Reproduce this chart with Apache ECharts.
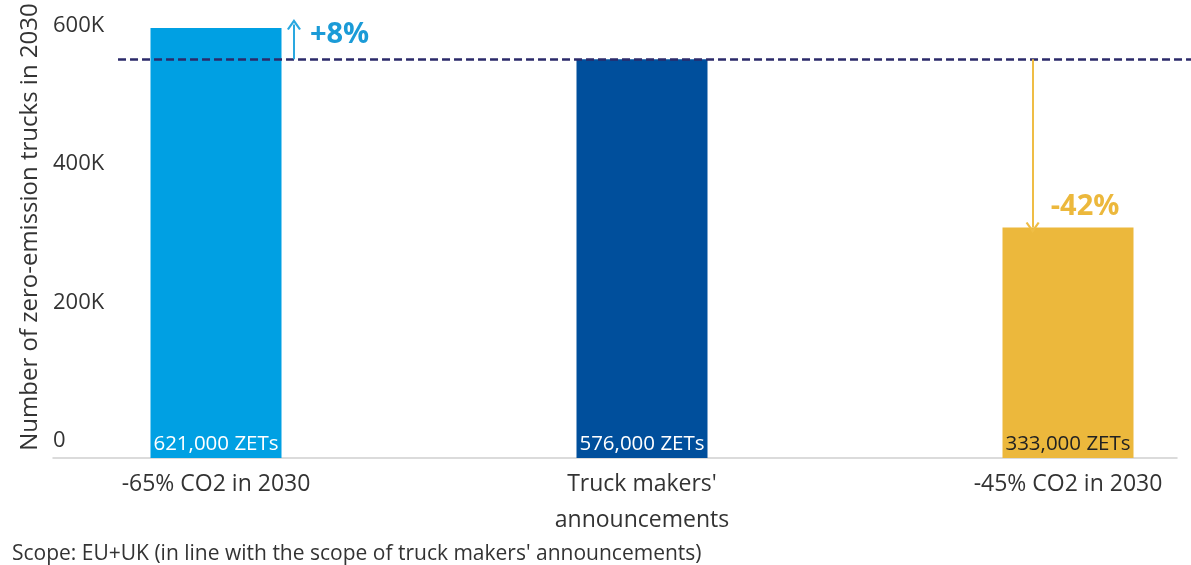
<!DOCTYPE html>
<html>
<head>
<meta charset="utf-8">
<script src="https://cdn.jsdelivr.net/npm/echarts@6/dist/echarts.min.js"></script>
<style>
  html, body { margin: 0; padding: 0; background: #fff; }
  #main { width: 1191px; height: 565px; }
</style>
</head>
<body>
<div id="main"></div>
<script>
// data
var categories = ['-65% CO2 in 2030', "Truck makers'\nannouncements", '-45% CO2 in 2030'];
var trucks = [621000, 576000, 333000];
var barTexts = ['621,000 ZETs', '576,000 ZETs', '333,000 ZETs'];
var refValue = 576000;          // truck makers' line
var changeTexts = ['+8%', '-42%'];
var yTicks = [0, 200000, 400000, 600000];

var barColors = ['#00a0e3', '#004f9c', '#ecb83c'];
var barTextColors = ['#ffffff', '#ffffff', '#222222'];
var font = 'Open Sans';
var chevron = 'path://M0,9 L6,0 L12,9 L10.4,10 L6,3.4 L1.6,10 Z';

var chart = echarts.init(document.getElementById('main'));

var barData = [];
for (var i = 0; i < trucks.length; i++) {
  barData.push({
    value: trucks[i],
    itemStyle: { color: barColors[i] },
    label: { formatter: barTexts[i], color: barTextColors[i] }
  });
}

chart.setOption({
  animation: false,
  textStyle: { fontFamily: font },
  title: {
    text: "Scope: EU+UK (in line with the scope of truck makers' announcements)",
    left: 7, top: 539,
    textStyle: { fontFamily: font, fontSize: 21, fontWeight: 'normal', color: '#333' }
  },
  grid: [
    { left: 3, right: -90, top: 8, bottom: 107, outerBoundsMode: 'none', containLabel: false },
    { left: 53, right: 14, top: 8, bottom: 107, outerBoundsMode: 'none', containLabel: false }
  ],
  xAxis: [
    {
      type: 'category', gridIndex: 0, data: categories,
      axisLine: { show: false }, axisTick: { show: false },
      axisLabel: { fontSize: 23, color: '#333', margin: 8, lineHeight: 36, interval: 0 }
    },
    { type: 'value', gridIndex: 0, min: -0.5, max: 2.5, show: false },
    {
      type: 'category', gridIndex: 1, data: [''],
      axisLine: { lineStyle: { color: '#d0d0d0', width: 1.5 } },
      axisTick: { show: false }, axisLabel: { show: false }
    }
  ],
  yAxis: [
    { type: 'value', gridIndex: 0, min: 0, max: 650000, show: false },
    {
      type: 'value', gridIndex: 1, min: 0, max: 650000, interval: 200000,
      splitLine: { show: false }, axisLine: { show: false }, axisTick: { show: false },
      axisLabel: {
        inside: true, margin: 0, fontSize: 22, color: '#333',
        showMaxLabel: false, verticalAlign: 'bottom', lineHeight: 34,
        formatter: function (v) { return yTicks.indexOf(v) < 0 ? '' : (v === 0 ? '0' : v / 1000 + 'K'); }
      },
      name: 'Number of zero-emission trucks in 2030',
      nameLocation: 'middle', nameRotate: 90, nameGap: 8,
      nameTextStyle: { fontSize: 24, color: '#333', padding: [0, 0, 0, 12] }
    }
  ],
  series: [
    {
      type: 'bar', xAxisIndex: 0, yAxisIndex: 0,
      barWidth: 131,
      data: barData,
      label: { show: true, position: 'insideBottom', distance: 3, fontSize: 20.5 }
    },
    {
      type: 'line', xAxisIndex: 1, yAxisIndex: 0, data: [],
      silent: true,
      markLine: {
        silent: true,
        label: { show: false },
        data: [
          [
            { coord: [-0.23, refValue], symbol: 'none', lineStyle: { color: '#2b2a6a', width: 2.5, type: [8, 4] } },
            { coord: [2.5, refValue], symbol: 'none' }
          ],
          [
            { coord: [0.183, refValue], symbol: 'none', lineStyle: { color: '#2aa8e0', width: 2, type: 'solid' } },
            { coord: [0.183, 626000], symbol: chevron, symbolSize: [14, 11] }
          ],
          [
            { coord: [1.917, refValue], symbol: 'none', lineStyle: { color: '#efbd45', width: 2, type: 'solid' } },
            { coord: [1.917, trucks[2]], symbol: chevron, symbolSize: [14, 11] }
          ]
        ]
      },
      markPoint: {
        silent: true,
        symbol: 'circle', symbolSize: 0,
        data: [
          { coord: [0.29, 611000], label: { show: true, formatter: changeTexts[0], color: '#1b9bd7', fontSize: 29, fontWeight: 'bold', fontFamily: font } },
          { coord: [2.04, 363000], label: { show: true, formatter: changeTexts[1], color: '#ecb83c', fontSize: 29, fontWeight: 'bold', fontFamily: font } }
        ]
      }
    }
  ]
});
</script>
</body>
</html>
